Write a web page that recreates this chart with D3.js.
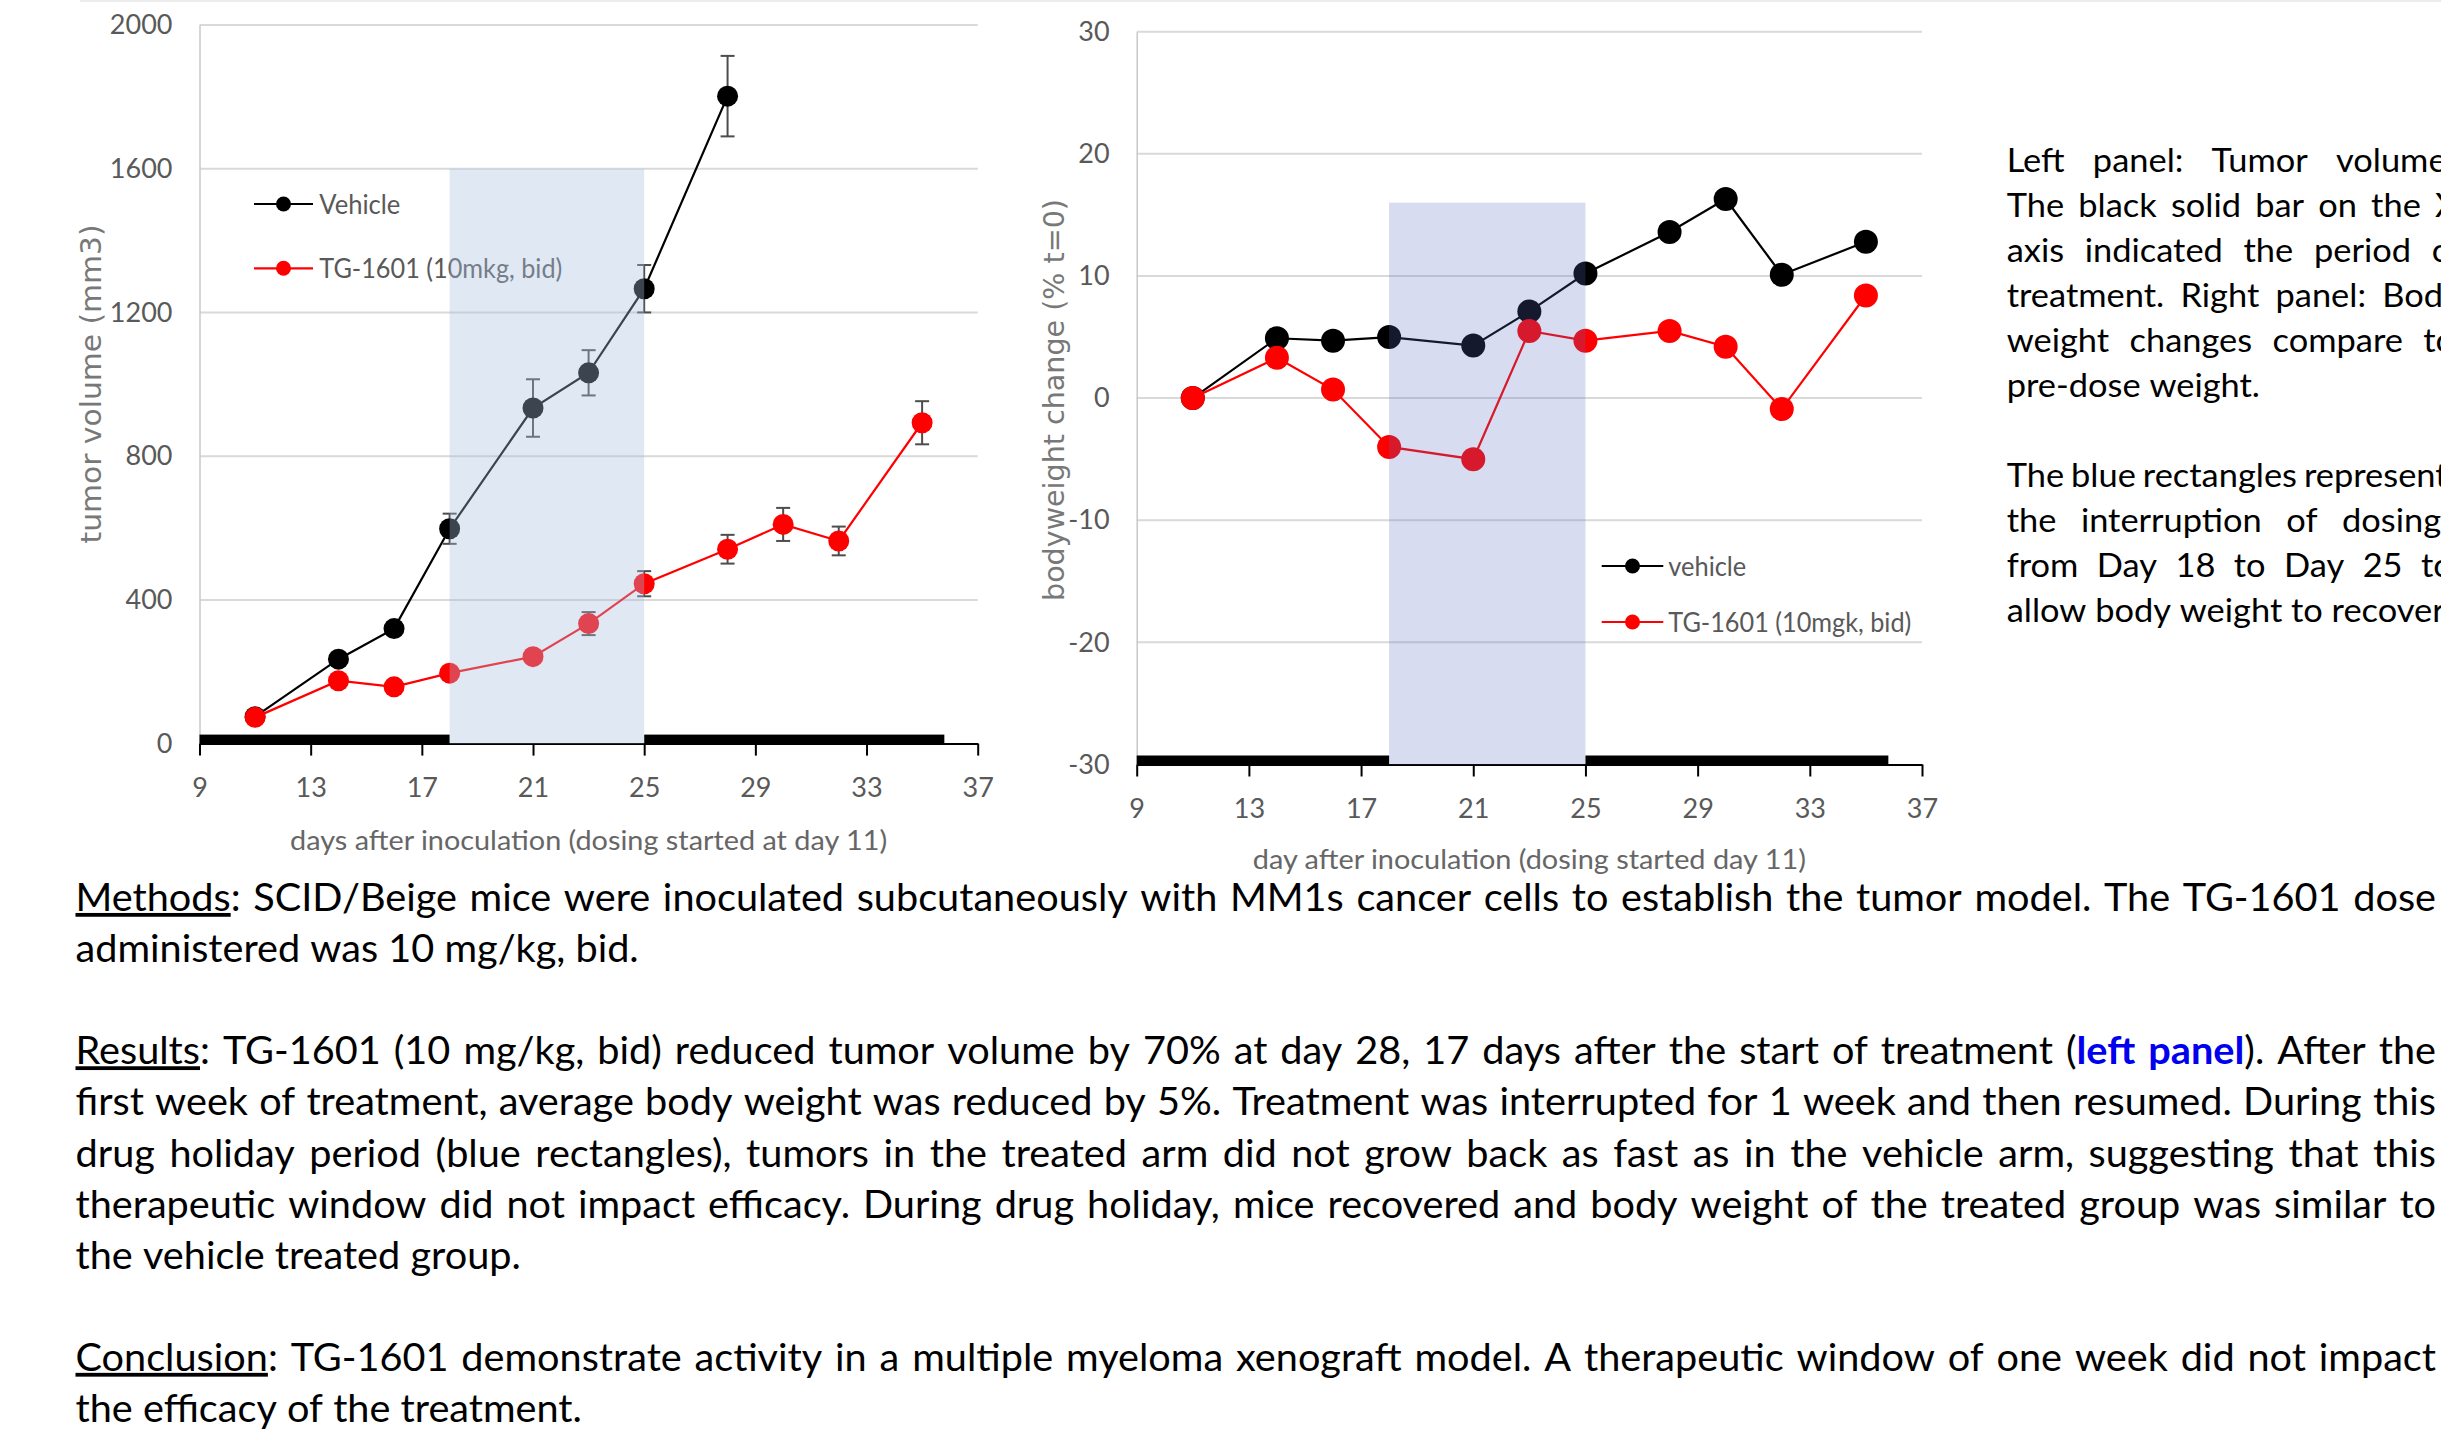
<!DOCTYPE html>
<html>
<head>
<meta charset="utf-8">
<script src="https://cdn.jsdelivr.net/npm/d3@7"></script>
<style>
  body { margin: 0; background: #fff; }
  svg { display: block; }
</style>
</head>
<body>
<div id="chart"></div>
<script>
// left panel: tumor volume (mm3)
const tumorVehicleDays = [11, 14, 16, 18, 21, 23, 25, 28];
const tumorVehicle = [75, 235, 320, 598, 934, 1032, 1266, 1802];
const tumorVehicleErr = [12, 15, 15, 42, 80, 63, 66, 112];
const tumorDrugDays = [11, 14, 16, 18, 21, 23, 25, 28, 30, 32, 35];
const tumorDrug = [73, 175, 158, 196, 242, 334, 445, 541, 610, 564, 893];
const tumorDrugErr = [10, 12, 12, 12, 12, 32, 35, 40, 46, 40, 60];

// right panel: bodyweight change (% t=0)
const weightDays = [11, 14, 16, 18, 21, 23, 25, 28, 30, 32, 35];
const weightVehicle = [0, 4.9, 4.7, 5.0, 4.3, 7.1, 10.2, 13.6, 16.3, 10.1, 12.8];
const weightDrug = [0, 3.3, 0.7, -4.0, -5.0, 5.5, 4.7, 5.5, 4.2, -0.9, 8.4];

const xTicks = [9, 13, 17, 21, 25, 29, 33, 37];
const tumorTicks = [0, 400, 800, 1200, 1600, 2000];
const weightTicks = [-30, -20, -10, 0, 10, 20, 30];
const holidayDays = [18, 25];
const dosingPeriods = [[9, 18], [25, 35.8]];

const W = 2441, H = 1433;
const chartFont = "Lato, 'Open Sans', sans-serif";
const titleFont = "'DejaVu Sans', Verdana, sans-serif";
const textFont = "Lato, 'Open Sans', sans-serif";

const svg = d3.select("#chart").append("svg")
  .attr("width", W)
  .attr("height", H)
  .style("background", "#fff");

// faint rule at the very top
svg.append("line")
  .attr("x1", 80).attr("x2", W).attr("y1", 1).attr("y2", 1)
  .attr("stroke", "#ececec").attr("stroke-width", 2);

function drawPanel(p) {
  const x = d3.scaleLinear().domain([9, 37]).range(p.xRange);
  const y = d3.scaleLinear().domain(p.yDomain).range(p.yRange);
  const g = svg.append("g");
  const y0 = y(p.yDomain[0]);

  // gridlines
  g.append("g").selectAll("line")
    .data(p.yTicks.filter(v => v !== p.yDomain[0]))
    .join("line")
    .attr("x1", x(9)).attr("x2", x(37))
    .attr("y1", d => y(d)).attr("y2", d => y(d))
    .attr("stroke", "#d9d9d9").attr("stroke-width", 2);

  // y axis
  const yAxis = g.append("g")
    .attr("transform", `translate(${x(9)},0)`)
    .call(d3.axisLeft(y).tickValues(p.yTicks).tickSize(0).tickPadding(27).tickFormat(d => String(d)));
  yAxis.select(".domain").attr("stroke", "#c8c8c8").attr("stroke-width", 1.5);
  yAxis.selectAll("text")
    .attr("font-family", chartFont).attr("font-size", 27).attr("fill", "#595959");

  // x axis
  const xAxis = g.append("g")
    .attr("transform", `translate(0,${y0})`)
    .call(d3.axisBottom(x).tickValues(xTicks).tickSize(12).tickSizeOuter(0).tickPadding(22).tickFormat(d => String(d)));
  xAxis.select(".domain").attr("stroke", "#000").attr("stroke-width", 2);
  xAxis.selectAll(".tick line").attr("stroke", "#000").attr("stroke-width", 2);
  xAxis.selectAll("text")
    .attr("font-family", chartFont).attr("font-size", 27).attr("fill", "#595959");

  // dosing periods (black solid bar on the x axis)
  g.append("g").selectAll("rect")
    .data(dosingPeriods)
    .join("rect")
    .attr("x", d => x(d[0]))
    .attr("width", d => x(d[1]) - x(d[0]))
    .attr("y", y0 - 9)
    .attr("height", 9)
    .attr("fill", "#000");

  // series
  p.series.forEach(s => {
    const pts = s.days.map((d, i) => ({ day: d, v: s.values[i], e: s.err ? s.err[i] : 0 }));
    const sg = g.append("g");
    sg.append("path")
      .datum(pts)
      .attr("d", d3.line().x(d => x(d.day)).y(d => y(d.v)))
      .attr("fill", "none")
      .attr("stroke", s.color)
      .attr("stroke-width", 2.2);

    if (s.err) {
      const eb = sg.append("g").selectAll("g").data(pts).join("g")
        .attr("stroke", "#4d4d4d").attr("stroke-width", 2);
      eb.append("line")
        .attr("x1", d => x(d.day)).attr("x2", d => x(d.day))
        .attr("y1", d => y(d.v - d.e)).attr("y2", d => y(d.v + d.e));
      eb.append("line")
        .attr("x1", d => x(d.day) - 7).attr("x2", d => x(d.day) + 7)
        .attr("y1", d => y(d.v + d.e)).attr("y2", d => y(d.v + d.e));
      eb.append("line")
        .attr("x1", d => x(d.day) - 7).attr("x2", d => x(d.day) + 7)
        .attr("y1", d => y(d.v - d.e)).attr("y2", d => y(d.v - d.e));
    }

    sg.append("g").selectAll("circle").data(pts).join("circle")
      .attr("cx", d => x(d.day))
      .attr("cy", d => y(d.v))
      .attr("r", p.r)
      .attr("fill", s.color);
  });

  // legend
  const lg = g.append("g");
  p.series.forEach((s, i) => {
    const ly = p.legend.y[i];
    lg.append("line")
      .attr("x1", p.legend.x1).attr("x2", p.legend.x2)
      .attr("y1", ly).attr("y2", ly)
      .attr("stroke", s.color).attr("stroke-width", 2.2);
    lg.append("circle")
      .attr("cx", (p.legend.x1 + p.legend.x2) / 2).attr("cy", ly)
      .attr("r", 7.5).attr("fill", s.color);
    lg.append("text")
      .attr("x", p.legend.textX).attr("y", ly).attr("dy", "0.36em")
      .attr("font-family", chartFont).attr("font-size", 27).attr("fill", "#595959")
      .attr("textLength", s.labelWidth).attr("lengthAdjust", "spacingAndGlyphs")
      .text(s.label);
  });

  // drug holiday (blue rectangle, drawn over the plot)
  g.append("rect")
    .attr("x", x(holidayDays[0]))
    .attr("width", x(holidayDays[1]) - x(holidayDays[0]))
    .attr("y", y(p.holidayTop))
    .attr("height", y0 - y(p.holidayTop))
    .attr("fill", p.holidayFill)
    .attr("fill-opacity", p.holidayOpacity);

  // axis titles
  g.append("text")
    .attr("x", (x(9) + x(37)) / 2 + p.xTitle.dx).attr("y", p.xTitle.y)
    .attr("text-anchor", "middle")
    .attr("font-family", chartFont).attr("font-size", 27).attr("fill", "#666")
    .attr("textLength", p.xTitle.w).attr("lengthAdjust", "spacingAndGlyphs")
    .text(p.xTitle.text);

  g.append("text")
    .attr("transform", `translate(${p.yTitle.x},${p.yTitle.y}) rotate(-90)`)
    .attr("text-anchor", "middle")
    .attr("font-family", titleFont).attr("font-size", 28).attr("fill", "#787878")
    .attr("textLength", p.yTitle.w).attr("lengthAdjust", "spacingAndGlyphs")
    .text(p.yTitle.text);
}

drawPanel({
  xRange: [199.5, 977.7],
  yDomain: [0, 2000],
  yRange: [743.6, 25],
  yTicks: tumorTicks,
  r: 10.5,
  holidayTop: 1600,
  holidayFill: "rgb(169,191,225)",
  holidayOpacity: 0.355,
  series: [
    { days: tumorVehicleDays, values: tumorVehicle, err: tumorVehicleErr, color: "#000", label: "Vehicle", labelWidth: 81 },
    { days: tumorDrugDays, values: tumorDrug, err: tumorDrugErr, color: "#ff0000", label: "TG-1601 (10mkg, bid)", labelWidth: 243 }
  ],
  legend: { x1: 254, x2: 313, y: [204, 268.3], textX: 319.3 },
  xTitle: { text: "days after inoculation (dosing started at day 11)", y: 850, w: 597, dx: 0 },
  yTitle: { text: "tumor volume (mm3)", x: 101, y: 384, w: 319 }
});

drawPanel({
  xRange: [1136.7, 1922],
  yDomain: [-30, 30],
  yRange: [764.5, 31.7],
  yTicks: weightTicks,
  r: 12,
  holidayTop: 16,
  holidayFill: "rgb(85,106,191)",
  holidayOpacity: 0.235,
  series: [
    { days: weightDays, values: weightVehicle, color: "#000", label: "vehicle", labelWidth: 78 },
    { days: weightDays, values: weightDrug, color: "#ff0000", label: "TG-1601 (10mgk, bid)", labelWidth: 243 }
  ],
  legend: { x1: 1601.7, x2: 1663.3, y: [566, 622], textX: 1668.3 },
  xTitle: { text: "day after inoculation (dosing started day 11)", y: 869, w: 553, dx: 0 },
  yTitle: { text: "bodyweight change (% t=0)", x: 1064, y: 400, w: 402 }
});

// ---------- text blocks ----------
function toWords(parts) {
  const words = [];
  let cur = [];
  parts.forEach(p => {
    p.t.split(" ").forEach((s, i) => {
      if (i > 0) { if (cur.length) words.push(cur); cur = []; }
      if (s) cur.push(Object.assign({}, p, { t: s }));
    });
  });
  if (cur.length) words.push(cur);
  return words;
}

function measure(str, size) {
  const t = svg.append("text").attr("font-family", textFont).attr("font-size", size).text(str);
  const w = t.node().getComputedTextLength();
  t.remove();
  return w;
}

function setLine(parts, o) {
  const words = toWords(typeof parts === "string" ? [{ t: parts }] : parts);
  const g = svg.append("g").attr("transform", `translate(${o.x},${o.y}) scale(${o.sx},1)`);
  const nodes = words.map(w => {
    const t = g.append("text")
      .attr("font-family", textFont).attr("font-size", o.size).attr("fill", "#000");
    w.forEach(p => {
      const s = t.append("tspan").text(p.t);
      if (p.u) s.style("text-decoration", "underline");
      if (p.b) s.attr("font-weight", "bold").attr("fill", "#0000ee");
    });
    return t;
  });
  const widths = nodes.map(n => n.node().getComputedTextLength());
  let gap = o.space;
  if (o.right != null && words.length > 1)
    gap = ((o.right - o.x) / o.sx - d3.sum(widths)) / (words.length - 1);
  if (o.lastX != null && words.length > 1)
    gap = ((o.lastX - o.x) / o.sx - d3.sum(widths.slice(0, -1))) / (words.length - 1);
  let cx = 0;
  nodes.forEach((n, i) => { n.attr("x", cx); cx += widths[i] + gap; });
}

// side note (justified)
const sideLines = [
  { text: "Left panel: Tumor volume.", lastX: 2336 },
  { text: "The black solid bar on the X", lastX: 2435 },
  { text: "axis indicated the period of", lastX: 2431.7 },
  { text: "treatment. Right panel: Body", lastX: 2382.3 },
  { text: "weight changes compare to", lastX: 2423.3 },
  { text: "pre-dose weight." },
  null,
  { text: "The blue rectangles represent", lastX: 2304 },
  { text: "the interruption of dosing", lastX: 2342 },
  { text: "from Day 18 to Day 25 to", lastX: 2421 },
  { text: "allow body weight to recover." }
];
const sideSize = 33.5;
const sideSx = 252.7 / measure("pre-dose weight.", sideSize);
const sideSpace = measure("a a", sideSize) - measure("aa", sideSize);
sideLines.forEach((l, i) => {
  if (!l) return;
  setLine(l.text, { x: 2006.7, y: 171.7 + 45 * i, size: sideSize, sx: sideSx, space: sideSpace, lastX: l.lastX });
});

// methods / results / conclusion
const bottomLines = [
  { parts: [{ t: "Methods", u: 1 }, { t: ": SCID/Beige mice were inoculated subcutaneously with MM1s cancer cells to establish the tumor model. The TG-1601 dose" }], justify: true },
  { parts: [{ t: "administered was 10 mg/kg, bid." }] },
  null,
  { parts: [{ t: "Results", u: 1 }, { t: ": TG-1601 (10 mg/kg, bid) reduced tumor volume by 70% at day 28, 17 days after the start of treatment (" }, { t: "left panel", b: 1 }, { t: "). After the" }], justify: true },
  { parts: [{ t: "first week of treatment, average body weight was reduced by 5%.  Treatment was interrupted for 1 week and then resumed. During this" }], justify: true },
  { parts: [{ t: "drug holiday period (blue rectangles), tumors in the treated arm did not grow back as fast as in the vehicle arm, suggesting that this" }], justify: true },
  { parts: [{ t: "therapeutic window did not impact efficacy. During drug holiday, mice recovered and body weight of the treated group was similar to" }], justify: true },
  { parts: [{ t: "the vehicle treated group." }] },
  null,
  { parts: [{ t: "Conclusion", u: 1 }, { t: ": TG-1601 demonstrate activity in a multiple myeloma xenograft model. A therapeutic window of one week did not impact" }], justify: true },
  { parts: [{ t: "the efficacy of the treatment." }] }
];
const bodySize = 38;
const bodySpace = measure("a a", bodySize) - measure("aa", bodySize);
const bodySx = (638 - 75.5) / measure("administered was 10 mg/kg, bid.", bodySize);
bottomLines.forEach((l, i) => {
  if (!l) return;
  setLine(l.parts, {
    x: 75.5, y: 911 + 51.1 * i, size: bodySize, sx: bodySx, space: bodySpace,
    right: l.justify ? 2436 : null
  });
});
</script>
</body>
</html>
